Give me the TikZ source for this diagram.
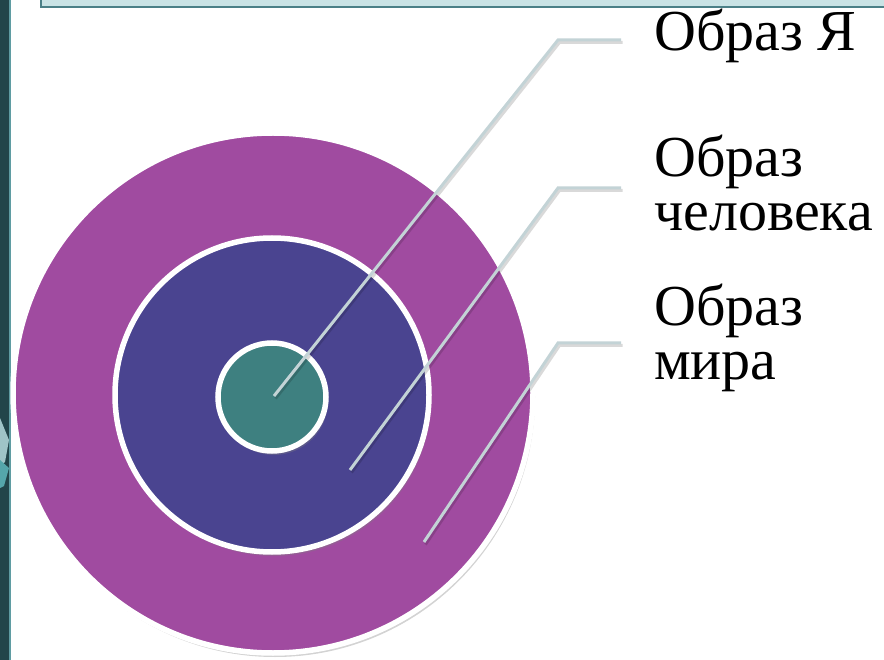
\documentclass[tikz,border=0pt]{standalone}
\usepackage{fontspec}
\setmainfont{Liberation Serif}
\usetikzlibrary{positioning}
\usetikzlibrary{shadows}
\definecolor{mirfill}{HTML}{A04BA0}
\definecolor{chelfill}{HTML}{4A4490}
\definecolor{yafill}{HTML}{3E8080}
\definecolor{leadercol}{HTML}{C3D3D6}
\definecolor{barfill}{HTML}{C9E3E5}
\definecolor{barline}{HTML}{4B8087}
\definecolor{stripdark}{HTML}{22454A}
\definecolor{striplight}{HTML}{5F9CA2}

\begin{document}
\begin{tikzpicture}[x=1pt,y=-1pt,
	ringnode/.style={circle, draw=white, line width=5.5pt, inner sep=0pt,
		drop shadow={opacity=0.35, shadow xshift=2pt, shadow yshift=-4pt}},
	labelnode/.style={anchor=west, align=left, inner sep=0pt,
		font=\fontsize{58}{54}\selectfont},
	leader/.style={draw=leadercol, line width=3pt, shorten >=33pt,
		preaction={draw=black, opacity=0.15, line width=3pt,
			transform canvas={shift={(1.5pt,-2.5pt)}}}},
	]
	\useasboundingbox (0,0) rectangle (884,660);
	%Frame
	\fill[stripdark] (0,0) rectangle (9,660);
	\fill[striplight] (9,0) rectangle (11,660);
	\fill[striplight!60!white] (0,418) -- (9,440) -- (5,462) -- (0,466) -- cycle;
	\fill[striplight!90!cyan] (0,460) -- (9,468) -- (4,486) -- (0,488) -- cycle;
	\filldraw[fill=barfill, draw=barline, line width=2pt] (41,-5) rectangle (890,7);
	%Circles
	\node[ringnode, fill=mirfill, minimum size=520pt]  (mir)  at (273,393) {};
	\node[ringnode, fill=chelfill, minimum size=314pt] (chel) at (272,395) {};
	\node[ringnode, fill=yafill, minimum size=108pt]   (ya)   at (272,397) {};
	%Labels
	\node[labelnode] (lYa)   at (654,36)  {Образ Я};
	\node[labelnode] (lChel) at (654,183) {Образ\\человека};
	\node[labelnode] (lMir)  at (654,338) {Образ\\мира};
	%Leaders
	\coordinate (cYa)   at (274,396);
	\coordinate (cChel) at (350,470);
	\coordinate (cMir)  at (424,542);
	\coordinate (kYa)   at (558,40);
	\coordinate (kChel) at (558,188);
	\coordinate (kMir)  at (558,343);
	\draw[leader] (cYa) -- (kYa) -- (kYa -| lYa.west);
	\draw[leader] (cChel) -- (kChel) -- (kChel -| lChel.west);
	\draw[leader] (cMir) -- (kMir) -- (kMir -| lMir.west);
\end{tikzpicture}
\end{document}
